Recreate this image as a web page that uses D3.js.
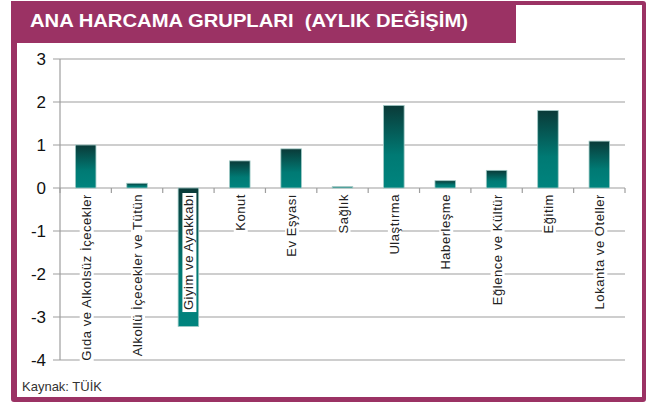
<html>
<script src='https://d3js.org/d3.v7.min.js'></script>
<style>
body {margin: 0; background: white;}
text {font-family: 'Liberation Sans', Arial, sans-serif;}
</style>
<body>
<svg width=651 height=403></svg>
<script>

var categories = ['Gıda ve Alkolsüz İçecekler', 'Alkollü İçecekler ve Tütün', 'Giyim ve Ayakkabı',
  'Konut', 'Ev Eşyası', 'Sağlık', 'Ulaştırma', 'Haberleşme', 'Eğlence ve Kültür', 'Eğitim', 'Lokanta ve Oteller'];
var values = [1.0, 0.11, -3.22, 0.63, 0.91, 0.03, 1.92, 0.17, 0.41, 1.80, 1.09];
var yTicks = [3, 2, 1, 0, -1, -2, -3, -4];
var title = 'ANA HARCAMA GRUPLARI  (AYLIK DEĞİŞİM)';
var source = 'Kaynak: TÜİK';

var purple = '#9b3264';
var svg = d3.select('svg');

// frame
svg.append('rect').attr('x', 11).attr('y', 1).attr('width', 635).attr('height', 401)
  .attr('rx', 3).attr('fill', purple);
svg.append('rect').attr('x', 17).attr('y', 5).attr('width', 625).attr('height', 392)
  .attr('fill', 'white');
svg.append('rect').attr('x', 11).attr('y', 1).attr('width', 505).attr('height', 42)
  .attr('fill', purple);
svg.append('text').attr('x', 30).attr('y', 27)
  .attr('fill', 'white').attr('font-weight', 'bold').attr('font-size', 19)
  .style('white-space', 'pre')
  .attr('textLength', 438).attr('lengthAdjust', 'spacingAndGlyphs')
  .text(title);

var x = d3.scaleBand().domain(categories).range([60, 625]).paddingInner(0.6).paddingOuter(0.3);
var xb = d3.scaleBand().domain(categories).range([60, 625]);
var y = d3.scaleLinear().domain([-4, 3]).range([360, 59]);

// gridlines + y ticks
svg.append('g').selectAll('line').data(yTicks).enter().append('line')
  .attr('x1', 53).attr('x2', 625)
  .attr('y1', function(d) { return y(d); }).attr('y2', function(d) { return y(d); })
  .attr('stroke', '#9e9e9e').attr('stroke-width', 1.2);

svg.append('line').attr('x1', 60).attr('x2', 60).attr('y1', y(3)).attr('y2', y(-4))
  .attr('stroke', '#9e9e9e').attr('stroke-width', 1.2);

svg.append('g').selectAll('text').data(yTicks).enter().append('text')
  .attr('x', 46).attr('y', function(d) { return y(d) + 6; })
  .attr('text-anchor', 'end').attr('font-size', 17).attr('fill', '#111')
  .text(function(d) { return d; });

// category ticks on zero line
var edges = categories.map(function(c) { return xb(c); }).concat([625]);
svg.append('g').selectAll('line').data(edges).enter().append('line')
  .attr('x1', function(d) { return d; }).attr('x2', function(d) { return d; })
  .attr('y1', y(0)).attr('y2', y(0) + 5)
  .attr('stroke', '#9e9e9e').attr('stroke-width', 1.2);

// gradient
var grad = svg.append('defs').append('linearGradient').attr('id', 'barGrad')
  .attr('x1', 0).attr('y1', 0).attr('x2', 0).attr('y2', 1);
grad.append('stop').attr('offset', '0%').attr('stop-color', '#0a3a38');
grad.append('stop').attr('offset', '60%').attr('stop-color', '#007a74');
grad.append('stop').attr('offset', '100%').attr('stop-color', '#00847e');

svg.append('g').selectAll('rect').data(values).enter().append('rect')
  .attr('x', function(d, i) { return x(categories[i]); })
  .attr('width', x.bandwidth())
  .attr('y', function(d) { return y(Math.max(0, d)); })
  .attr('height', function(d) { return Math.abs(y(d) - y(0)); })
  .attr('fill', 'url(#barGrad)')
  .attr('stroke', '#9fc9c5').attr('stroke-width', 0.8);

// category labels
var lab = svg.append('g').selectAll('g').data(categories).enter().append('g')
  .attr('transform', function(d) {
    return 'translate(' + (xb(d) + xb.bandwidth() / 2 + 5) + ',' + (y(0) + 6) + ') rotate(-90)';
  });
lab.append('text').attr('text-anchor', 'end').attr('font-size', 13)
  .attr('letter-spacing', 0.55).attr('fill', '#222')
  .text(function(d) { return d; });
lab.each(function() {
  var g = d3.select(this);
  var bb = g.select('text').node().getBBox();
  g.insert('rect', 'text').attr('x', bb.x - 2).attr('y', bb.y + 1)
    .attr('width', bb.width + 3).attr('height', bb.height - 1).attr('fill', 'white');
});

svg.append('text').attr('x', 22).attr('y', 391).attr('font-size', 13)
  .attr('fill', '#333').text(source);

</script>
</body>
</html>
